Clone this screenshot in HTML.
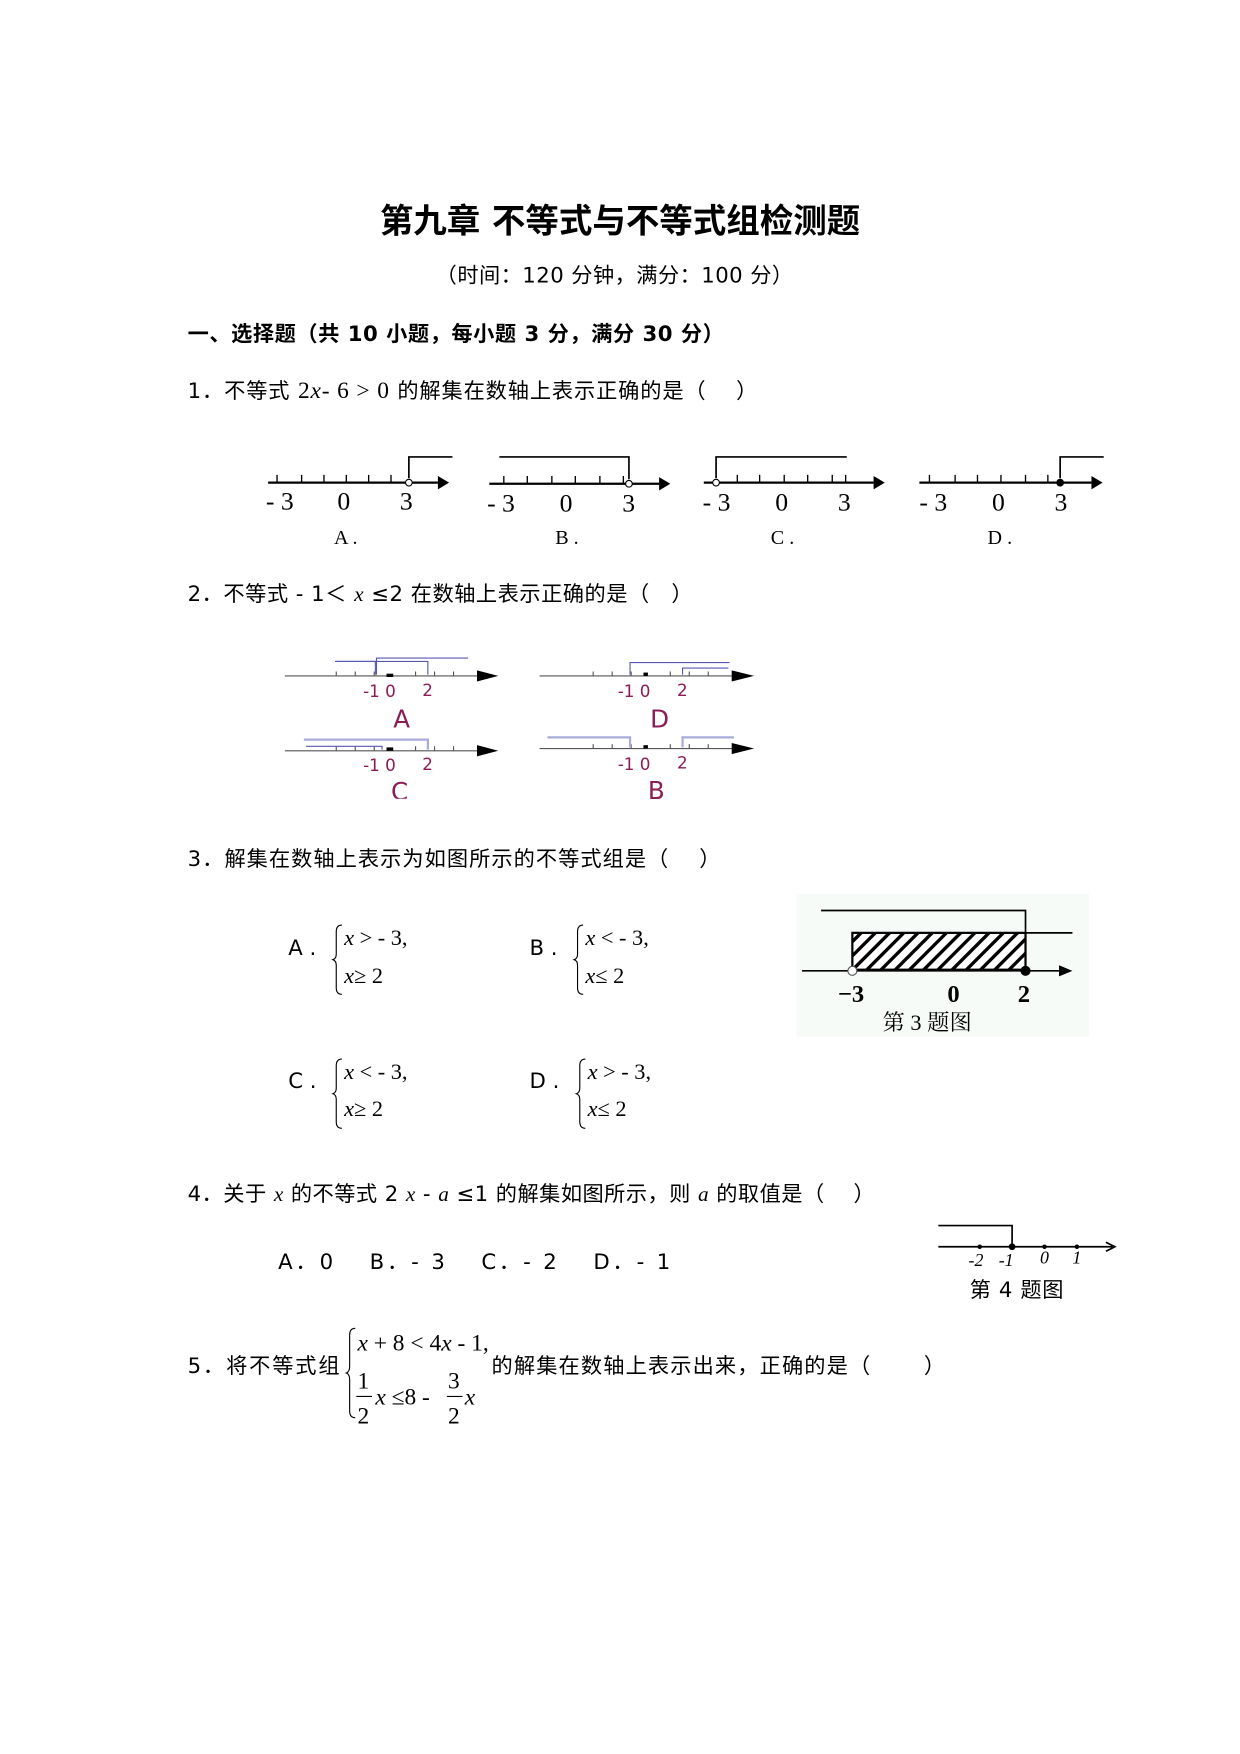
<!DOCTYPE html>
<html><head><meta charset="utf-8"><style>
html,body{margin:0;padding:0;background:#fff;}
svg{display:block;}
text{font-family:"DejaVu Sans","Noto Sans CJK SC",sans-serif;fill:#000;}
.s{font-family:"Liberation Serif","Noto Serif CJK SC",serif;}
.i{font-family:"Liberation Serif",serif;font-style:italic;}
.m{fill:#8b1c55;font-family:"DejaVu Sans",sans-serif;}
</style></head><body>
<svg width="1240" height="1754" viewBox="0 0 1110 1570" xmlns="http://www.w3.org/2000/svg">
<defs>
<pattern id="h" width="9" height="9" patternUnits="userSpaceOnUse" patternTransform="rotate(45)"><rect width="9" height="9" fill="#fff"/><rect width="3" height="9" fill="#000"/></pattern>
</defs>
<text x="340" y="208" font-size="30" font-weight="bold" textLength="430" lengthAdjust="spacingAndGlyphs">第九章  不等式与不等式组检测题</text>
<text x="390" y="253" font-size="19" textLength="320" lengthAdjust="spacing">（时间：120 分钟，满分：100 分）</text>
<text x="168" y="305" font-size="19" font-weight="bold" textLength="480" lengthAdjust="spacing">一、选择题（共 10 小题，每小题 3 分，满分 30 分）</text>
<text x="168" y="356" font-size="19" textLength="510" lengthAdjust="spacing">1．不等式 <tspan class="s" font-size="21">2</tspan><tspan class="i" font-size="21">x</tspan><tspan class="s" font-size="21">- 6 &gt; 0</tspan> 的解集在数轴上表示正确的是（　  ）</text>

<!-- Q1 number lines -->
<g stroke="#000" stroke-width="2" fill="none">
<line x1="240" y1="432" x2="392" y2="432"/><line x1="438" y1="433" x2="590" y2="433"/><line x1="630" y1="432" x2="782" y2="432"/><line x1="823" y1="432" x2="977" y2="432"/>
<polyline points="366,428 366,409 405,409" stroke-width="1.5"/>
<polyline points="447,409 563,409 563,429" stroke-width="1.5"/>
<polyline points="641,428 641,409 758,409" stroke-width="1.5"/>
<polyline points="949,428 949,409 988,409" stroke-width="1.5"/>
</g>
<g fill="#000"><polygon points="392,426 402,432 392,438"/><polygon points="590,427 600,433 590,439"/><polygon points="782,426 792,432 782,438"/><polygon points="977,426 987,432 977,438"/></g>
<g stroke="#000" stroke-width="1.2">
<path d="M248 432v-7M270 432v-7M290 432v-7M310 432v-7M330 432v-7M350 432v-7"/>
<path d="M451 433v-7M472 433v-7M494 433v-7M515 433v-7M537 433v-7M558 433v-7"/>
<path d="M660 432v-7M680 432v-7M702 432v-7M723 432v-7M745 432v-7M757 432v-7"/>
<path d="M832 432v-7M855 432v-7M875 432v-7M896 432v-7M918 432v-7M938 432v-7"/>
</g>
<circle cx="366" cy="432" r="3" fill="#fff" stroke="#000"/><circle cx="563" cy="433" r="3" fill="#fff" stroke="#000"/><circle cx="641" cy="432" r="3" fill="#fff" stroke="#000"/><circle cx="949" cy="432" r="3.5" fill="#000"/>
<g font-size="23">
<text x="238" y="456" class="s">- 3</text><text x="302" y="456" class="s">0</text><text x="358" y="456" class="s">3</text>
<text x="436" y="458" class="s">- 3</text><text x="501" y="458" class="s">0</text><text x="557" y="458" class="s">3</text>
<text x="629" y="457" class="s">- 3</text><text x="694" y="457" class="s">0</text><text x="750" y="457" class="s">3</text>
<text x="823" y="457" class="s">- 3</text><text x="888" y="457" class="s">0</text><text x="944" y="457" class="s">3</text>
<text x="299" y="487" font-size="18" class="s">A  .</text><text x="497" y="487" font-size="18" class="s">B  .</text><text x="690" y="487" font-size="18" class="s">C  .</text><text x="884" y="487" font-size="18" class="s">D  .</text>
</g>

<text x="168" y="538" font-size="19" textLength="452" lengthAdjust="spacing">2．不等式 - 1＜ <tspan class="i">x</tspan> ≤2 在数轴上表示正确的是（　）</text>

<!-- Q2 -->
<g stroke="#555" stroke-width="1">
<line x1="255" y1="605" x2="432" y2="605"/><line x1="483" y1="605" x2="660" y2="605"/>
<line x1="255" y1="672" x2="432" y2="672"/><line x1="483" y1="670" x2="660" y2="670"/>
<path d="M301 605v-4M318 605v-4M335 605v-4M372 605v-4M389 605v-4M406 605v-4M531 605v-4M548 605v-4M565 605v-4M600 605v-4M617 605v-4M634 605v-4"/>
<path d="M301 672v-4M318 672v-4M335 672v-4M372 672v-4M389 672v-4M406 672v-4M531 670v-4M548 670v-4M565 670v-4M600 670v-4M617 670v-4M634 670v-4"/>
</g>
<g fill="#000"><polygon points="427,600 446,605 427,610"/><polygon points="655,600 675,605 655,610"/><polygon points="427,667 446,672 427,677"/><polygon points="655,665 675,670 655,675"/>
<rect x="346" y="603" width="6" height="3"/><rect x="346" y="669" width="6" height="3"/><rect x="576" y="602" width="4" height="3"/><rect x="576" y="667" width="4" height="3"/></g>
<g stroke="#5858b0" stroke-width="1" fill="none">
<polyline points="337,604 337,589 419,589"/><polyline points="336,604 336,592 300,592"/><polyline points="300,592 383,592 383,604"/>
<polyline points="564,604 564,593 653,593"/><polyline points="611,604 611,598 652,598"/>
<polyline points="272,662 383,662 383,671" stroke="#a8acdc" stroke-width="2"/><polyline points="274,668 342,668 342,671"/>
<polyline points="490,660 564,660 564,669" stroke="#a8acdc" stroke-width="2"/><polyline points="611,669 611,660 657,660" stroke="#a8acdc" stroke-width="2"/>
</g>
<g font-size="15">
<text x="325" y="624" class="m">-1 0</text><text x="378" y="623" class="m">2</text>
<text x="553" y="624" class="m">-1 0</text><text x="606" y="623" class="m">2</text>
<text x="325" y="690" class="m">-1 0</text><text x="378" y="689" class="m">2</text>
<text x="553" y="689" class="m">-1 0</text><text x="606" y="688" class="m">2</text>
<text x="352" y="651" font-size="22" class="m">A</text><text x="582" y="651" font-size="22" class="m">D</text>
<text x="580" y="715" font-size="22" class="m">B</text>
</g>
<svg x="340" y="697" width="40" height="18" overflow="hidden"><text x="10" y="19" font-size="22" class="m">C</text></svg>

<text x="168" y="775" font-size="19" textLength="477" lengthAdjust="spacing">3．解集在数轴上表示为如图所示的不等式组是（　 ）</text>
<!-- Q3 options -->
<g font-size="19">
<text x="258" y="855">A .</text><text x="474" y="855">B .</text><text x="258" y="974">C .</text><text x="474" y="974">D .</text>
</g>
<g font-size="20" class="s">
<text x="308" y="846" class="s"><tspan class="i">x</tspan> &gt; - 3,</text><text x="308" y="880" class="s"><tspan class="i">x</tspan>≥ 2</text>
<text x="524" y="846" class="s"><tspan class="i">x</tspan> &lt; - 3,</text><text x="524" y="880" class="s"><tspan class="i">x</tspan>≤ 2</text>
<text x="308" y="966" class="s"><tspan class="i">x</tspan> &lt; - 3,</text><text x="308" y="999" class="s"><tspan class="i">x</tspan>≥ 2</text>
<text x="526" y="966" class="s"><tspan class="i">x</tspan> &gt; - 3,</text><text x="526" y="999" class="s"><tspan class="i">x</tspan>≤ 2</text>
</g>
<g stroke="#000" fill="none" stroke-width="1">
<path d="M306 828q-5 0-5 6v20q0 4-3 5q3 1 3 5v20q0 6 5 6"/>
<path d="M522 828q-5 0-5 6v20q0 4-3 5q3 1 3 5v20q0 6 5 6"/>
<path d="M306 948q-5 0-5 6v20q0 4-3 5q3 1 3 5v20q0 6 5 6"/>
<path d="M524 948q-5 0-5 6v20q0 4-3 5q3 1 3 5v20q0 6 5 6"/>
</g>
<!-- Q3 figure -->
<rect x="713" y="800" width="262" height="128" fill="#f7fbf8"/>
<rect x="763" y="835" width="155" height="33" fill="url(#h)" stroke="#000" stroke-width="2"/>
<g stroke="#000" fill="none" stroke-width="1.5">
<polyline points="735,815 918,815 918,868"/><line x1="918" y1="835" x2="960" y2="835"/><line x1="718" y1="869" x2="952" y2="869"/>
</g>
<polygon points="948,864 960,869 948,874" fill="#000"/>
<circle cx="763" cy="869" r="4" fill="#fff" stroke="#555"/><circle cx="918" cy="869" r="4.5" fill="#000"/>
<g font-size="22" font-weight="bold"><text x="750" y="897" class="s">−3</text><text x="848" y="897" class="s">0</text><text x="911" y="897" class="s">2</text></g>
<text x="790" y="922" font-size="20" class="s">第 3 题图</text>

<text x="168" y="1075" font-size="19" textLength="615" lengthAdjust="spacing">4．关于 <tspan class="i">x</tspan> 的不等式 2 <tspan class="i">x</tspan> - <tspan class="i">a</tspan> ≤1 的解集如图所示，则 <tspan class="i">a</tspan> 的取值是（　 ）</text>
<text x="249" y="1136" font-size="19" textLength="351" lengthAdjust="spacing">A．0　 B．- 3　 C．- 2　 D．- 1</text>
<g stroke="#000" fill="none" stroke-width="1.5">
<line x1="840" y1="1116" x2="996" y2="1116"/><polyline points="840,1097 906,1097 906,1116"/><polyline points="990,1112 998,1116 990,1120"/>
</g>
<g fill="#000"><circle cx="877" cy="1116" r="2"/><circle cx="906" cy="1116" r="3"/><circle cx="935" cy="1116" r="2"/><circle cx="964" cy="1116" r="2"/></g>
<g font-size="16"><text x="867" y="1133" class="i">-2</text><text x="894" y="1133" class="i">-1</text><text x="931" y="1131" class="i">0</text><text x="960" y="1131" class="i">1</text></g>
<text x="868" y="1161" font-size="19" textLength="84" lengthAdjust="spacing">第 4 题图</text>

<text x="168" y="1229" font-size="19" textLength="136" lengthAdjust="spacing">5．将不等式组</text>
<text x="440" y="1229" font-size="19" textLength="406" lengthAdjust="spacing">的解集在数轴上表示出来，正确的是（　　 ）</text>
<path d="M318 1189q-5 0-5 6v28q0 5-3 6q3 1 3 6v28q0 6 5 6" stroke="#000" fill="none"/>
<g font-size="21">
<text x="320" y="1209" class="s"><tspan class="i">x</tspan> + 8 &lt; 4<tspan class="i">x</tspan> - 1,</text>
<text x="320" y="1243" class="s">1</text><text x="320" y="1274" class="s">2</text>
<text x="336" y="1257" class="s"><tspan class="i">x</tspan> ≤8 -</text>
<text x="401" y="1243" class="s">3</text><text x="401" y="1274" class="s">2</text><text x="416" y="1257" class="i">x</text>
</g>
<line x1="319" y1="1250" x2="333" y2="1250" stroke="#000"/><line x1="400" y1="1250" x2="414" y2="1250" stroke="#000"/>
</svg>
</body></html>
